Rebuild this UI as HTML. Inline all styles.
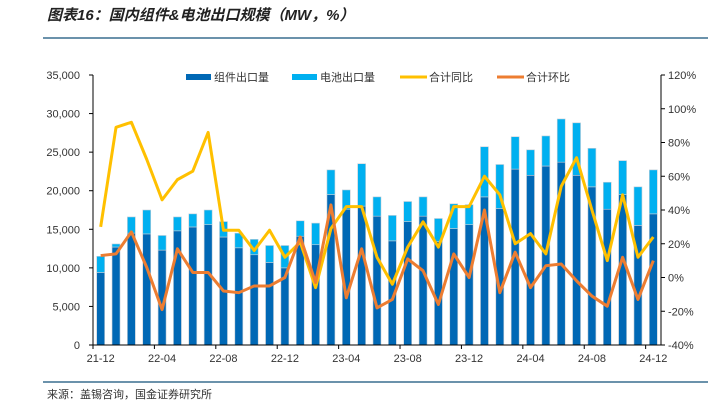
<!DOCTYPE html>
<html><head><meta charset="utf-8">
<style>
body{margin:0;background:#fff;width:708px;height:413px;overflow:hidden;font-family:"Liberation Sans","Noto Sans CJK SC",sans-serif;}
svg text{font-family:"Liberation Sans","Noto Sans CJK SC",sans-serif;}
</style></head><body>
<svg width="708" height="413" viewBox="0 0 708 413">
<text x="47" y="20" font-size="15" font-weight="bold" font-style="italic" fill="#222">图表16：国内组件&amp;电池出口规模（MW，%）</text>
<line x1="43" y1="38" x2="708" y2="38" stroke="#3a6f8f" stroke-width="1.5"/>
<g font-size="11" fill="#333">
<g><rect x="186" y="74" width="25" height="6" fill="#0068b5"/><text x="214" y="81">组件出口量</text></g>
<g><rect x="292" y="74" width="25" height="6" fill="#00b0f0"/><text x="320" y="81">电池出口量</text></g>
<g><line x1="400" y1="77" x2="427" y2="77" stroke="#ffc000" stroke-width="3"/><text x="429" y="81">合计同比</text></g>
<g><line x1="497" y1="77" x2="524" y2="77" stroke="#ed7d31" stroke-width="3"/><text x="526" y="81">合计环比</text></g>
</g>
<g id="plot"></g>
<line x1="43" y1="382" x2="708" y2="382" stroke="#3a6f8f" stroke-width="1.5"/>
<text x="47" y="398" font-size="11" fill="#333">来源：盖锡咨询，国金证券研究所</text>
</svg>
<script>
const categories=["21-12","22-01","22-02","22-03","22-04","22-05","22-06","22-07","22-08","22-09","22-10","22-11","22-12","23-01","23-02","23-03","23-04","23-05","23-06","23-07","23-08","23-09","23-10","23-11","23-12","24-01","24-02","24-03","24-04","24-05","24-06","24-07","24-08","24-09","24-10","24-11","24-12"];
const moduleVals=[9400,12700,14500,14400,12300,14800,15300,15600,14000,12600,11700,10700,10000,14100,13000,19500,17600,18000,16700,13500,16000,16700,13400,15100,15600,19200,17700,22800,22000,23200,23700,22000,20500,17600,19500,15500,17000];
const cellVals=[2100,400,2100,3100,1900,1800,1700,1900,2000,1900,2000,2200,2900,2000,2800,3200,2500,5500,2500,3300,2600,2500,3000,3200,2600,6500,5700,4200,3300,3900,5600,6800,5000,3500,4400,5000,5700];
const yoyVals=[30,89,92,70,46,58,63,86,28,28,16,28,12,21,-6,29,42,42,12,-4,18,33,18,42,42,60,49,20,26,14,54,71,40,10,49,12,24];
const momVals=[13,14,27,6,-19,17,3,3,-8,-9,-5,-5,0,24,-3,43,-12,17,-18,-13,11,4,-16,14,0,40,-9,15,-6,7,8,-2,-11,-17,12,-13,10];
const leftTicks=[0,5000,10000,15000,20000,25000,30000,35000];
const rightTicks=[-40,-20,0,20,40,60,80,100,120];
const xLabelIdx=[0,4,8,12,16,20,24,28,32,36];

const NS="http://www.w3.org/2000/svg";
const X0=93,X1=661,Y0=345,Y1=75;
const band=(X1-X0)/categories.length;
const xC=i=>X0+band*(i+0.5);
const yL=v=>Y0-(v/35000)*(Y0-Y1);
const yR=v=>Y0-((v+40)/160)*(Y0-Y1);
const plot=document.getElementById('plot');
function mk(tag,attrs,parent){const e=document.createElementNS(NS,tag);for(const k in attrs)e.setAttribute(k,attrs[k]);(parent||plot).appendChild(e);return e;}
function fmt(v){return v.toString().replace(/\B(?=(\d{3})+(?!\d))/g,",");}

leftTicks.forEach(t=>{
 const tx=mk('text',{x:80,y:yL(t)+4,'font-size':11,'text-anchor':'end',fill:'#333'});tx.textContent=fmt(t);
 
 
 mk('line',{x1:X0-4,x2:X0,y1:yL(t),y2:yL(t),stroke:'#000'});
});
rightTicks.forEach(t=>{
 const tx=mk('text',{x:668,y:yR(t)+4,'font-size':11,fill:'#333'});tx.textContent=t+'%';
 
 
 mk('line',{x1:X1,x2:X1+4,y1:yR(t),y2:yR(t),stroke:'#000'});
});
categories.forEach((c,i)=>{
 const bw=8,x=xC(i)-bw/2;
 const r1=mk('rect',{x:x,y:yL(moduleVals[i]),width:bw,height:Y0-yL(moduleVals[i]),fill:'#0068b5',stroke:'#c8d0d8','stroke-width':0.6});
 
 
 const tot=moduleVals[i]+cellVals[i];
 const r2=mk('rect',{x:x,y:yL(tot),width:bw,height:yL(moduleVals[i])-yL(tot),fill:'#00b0f0',stroke:'#c8d0d8','stroke-width':0.6});
 
 
});
xLabelIdx.forEach(i=>{
 const tx=mk('text',{x:xC(i),y:362,'font-size':11,'text-anchor':'middle',fill:'#333'});tx.textContent=categories[i];
 
 
 mk('line',{x1:X0+band*i,x2:X0+band*i,y1:Y0,y2:Y0+4,stroke:'#000'});
});
mk('line',{x1:X0,x2:X0,y1:Y1,y2:Y0,stroke:'#000'});
mk('line',{x1:X1,x2:X1,y1:Y1,y2:Y0,stroke:'#000'});
mk('line',{x1:X0,x2:X1,y1:Y0,y2:Y0,stroke:'#000'});
const yoy=mk('polyline',{points:yoyVals.map((v,i)=>xC(i)+','+yR(v)).join(' '),fill:'none',stroke:'#ffc000','stroke-width':3,'stroke-linejoin':'round'});


const mom=mk('polyline',{points:momVals.map((v,i)=>xC(i)+','+yR(v)).join(' '),fill:'none',stroke:'#ed7d31','stroke-width':3,'stroke-linejoin':'round'});


</script>
</body></html>
